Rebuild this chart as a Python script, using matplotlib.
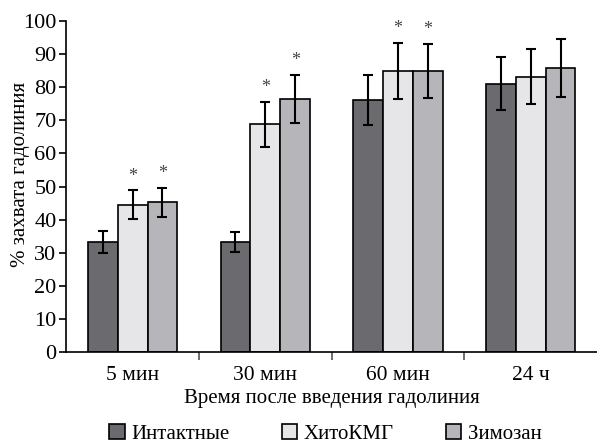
import numpy as np
import matplotlib.pyplot as plt
from matplotlib.patches import Patch

plt.rcParams['font.family'] = ['Liberation Serif', 'DejaVu Sans']

# данные
categories = ['5 мин', '30 мин', '60 мин', '24 ч']
groups = ['Интактные', 'ХитоКМГ', 'Зимозан']
values = {
    'Интактные': [33.3, 33.3, 76.1, 81.0],
    'ХитоКМГ': [44.5, 68.8, 84.9, 83.1],
    'Зимозан': [45.2, 76.5, 84.9, 85.8],
}
errors = {
    'Интактные': [3.3, 3.0, 7.5, 8.0],
    'ХитоКМГ': [4.3, 6.8, 8.6, 8.3],
    'Зимозан': [4.5, 7.3, 8.2, 8.8],
}
stars = {
    'Интактные': [False, False, False, False],
    'ХитоКМГ': [True, True, True, False],
    'Зимозан': [True, True, True, False],
}
colors = ['#6b6b6f', '#e6e6e8', '#b6b6ba']

fig = plt.figure(figsize=(5.97, 4.47), dpi=100)
ax = fig.add_axes([0.111, 0.2125, 0.889, 0.7405])

x = np.arange(len(categories))
w = 0.225
for i, g in enumerate(groups):
    pos = x + (i - 1) * w
    ax.bar(pos, values[g], w, color=colors[i], edgecolor='black', linewidth=1.2)
    ax.errorbar(pos, values[g], yerr=errors[g], fmt='none', ecolor='black',
                elinewidth=1.5, capsize=3.5, capthick=1.5)
    for p, v, e, s in zip(pos, values[g], errors[g], stars[g]):
        if s:
            ax.text(p, v + e + 1.8, '*', ha='center', va='bottom', fontsize=13, color='#444444')

ax.set_xlim(-0.5, 3.5)
ax.set_ylim(0, 100)
ax.set_yticks(range(0, 101, 10))
ax.set_xticks(x)
ax.set_xticklabels(categories)
ax.set_xticks([0.5, 1.5, 2.5], minor=True)
ax.tick_params(axis='x', which='major', length=0, labelsize=15.5, pad=10)
ax.tick_params(axis='x', which='minor', length=6, width=1.2, color='#555555')
ax.tick_params(axis='y', length=5, width=1.2, labelsize=16, pad=2)
for s in ['top', 'right']:
    ax.spines[s].set_visible(False)
ax.spines['left'].set_linewidth(1.2)
ax.spines['bottom'].set_linewidth(1.2)

ax.set_xlabel('Время после введения гадолиния', fontsize=15, labelpad=3)
ax.set_ylabel('% захвата гадолиния', fontsize=15)
ax.yaxis.set_label_coords(-0.068, 0.535)

handles = [Patch(facecolor=c, edgecolor='black', linewidth=1.2) for c in colors]
fig.legend(handles, groups, loc='center', bbox_to_anchor=(0.545, 0.03), ncol=3,
           frameon=False, fontsize=15, handlelength=0.75, handleheight=0.75,
           handletextpad=0.3, columnspacing=2.5, borderpad=0.2)

fig.savefig('out.png', dpi=100)
